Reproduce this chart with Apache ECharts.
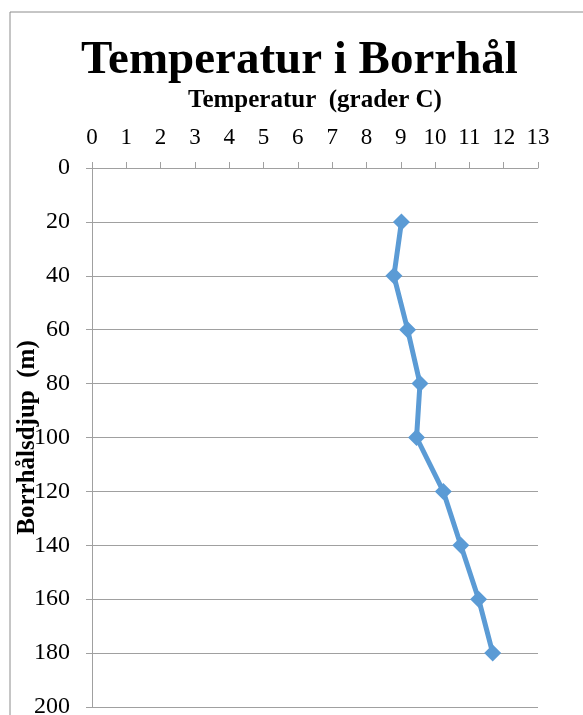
<!DOCTYPE html>
<html>
<head>
<meta charset="utf-8">
<script src="https://cdn.jsdelivr.net/npm/echarts@6/dist/echarts.min.js"></script>
<style>
  html, body { margin: 0; padding: 0; background: #fff; }
  #chart { width: 583px; height: 715px; }
</style>
</head>
<body>
<div id="chart"></div>
<script>
// djup (m) och temperatur (grader C)
const depths = [20, 40, 60, 80, 100, 120, 140, 160, 180];
const temps = [9.02, 8.8, 9.2, 9.56, 9.46, 10.24, 10.75, 11.27, 11.68];

const chartTitle = 'Temperatur i Borrhål';
const xName = 'Temperatur  (grader C)';
const yName = 'Borrhålsdjup  (m)';

const serif = '"Liberation Serif", "Times New Roman", serif';

let myChart = echarts.init(document.getElementById('chart'));

let option = {
    backgroundColor: '#fff',
    animation: false,
    title: {
        text: chartTitle,
        left: 76,
        top: 32,
        textStyle: {
            fontFamily: serif,
            fontWeight: 'bold',
            fontSize: 47,
            color: '#000'
        }
    },
    graphic: [{
        // ramen runt diagramytan
        type: 'rect',
        shape: { x: 10, y: 12, width: 600, height: 720 },
        style: { fill: 'none', stroke: '#8c8c8c', lineWidth: 1 },
        silent: true
    }],
    grid: {
        left: 92,
        right: 45,
        top: 168,
        bottom: 8,
        outerBoundsMode: 'none'
    },
    xAxis: {
        type: 'value',
        position: 'top',
        min: 0,
        max: 13,
        interval: 1,
        name: xName,
        nameLocation: 'middle',
        nameGap: 55,
        nameMoveOverlap: false,
        nameTextStyle: {
            fontFamily: serif,
            fontWeight: 'bold',
            fontSize: 25,
            color: '#000'
        },
        axisLine: { show: true, lineStyle: { color: '#a0a0a0', width: 1 } },
        axisTick: { show: true, inside: false, length: 6, lineStyle: { color: '#a0a0a0' } },
        axisLabel: {
            fontFamily: serif,
            fontSize: 23,
            color: '#000',
            margin: 19
        },
        splitLine: { show: false }
    },
    yAxis: {
        type: 'value',
        inverse: true,
        min: 0,
        max: 200,
        interval: 20,
        name: yName,
        nameLocation: 'middle',
        nameGap: 52,
        nameRotate: 90,
        nameMoveOverlap: false,
        nameTextStyle: {
            fontFamily: serif,
            fontWeight: 'bold',
            fontSize: 25,
            color: '#000'
        },
        axisLine: { show: true, lineStyle: { color: '#a0a0a0', width: 1 } },
        axisTick: { show: true, length: 6, lineStyle: { color: '#a0a0a0' } },
        axisLabel: {
            fontFamily: serif,
            fontSize: 24,
            color: '#000',
            margin: 22
        },
        splitLine: { show: true, lineStyle: { color: '#a0a0a0', width: 1 } }
    },
    series: [{
        type: 'line',
        data: depths.map((d, i) => [temps[i], d]),
        symbol: 'diamond',
        symbolSize: 17,
        lineStyle: { color: '#5b9bd5', width: 5 },
        itemStyle: { color: '#5b9bd5' }
    }]
};

myChart.setOption(option);
</script>
</body>
</html>
